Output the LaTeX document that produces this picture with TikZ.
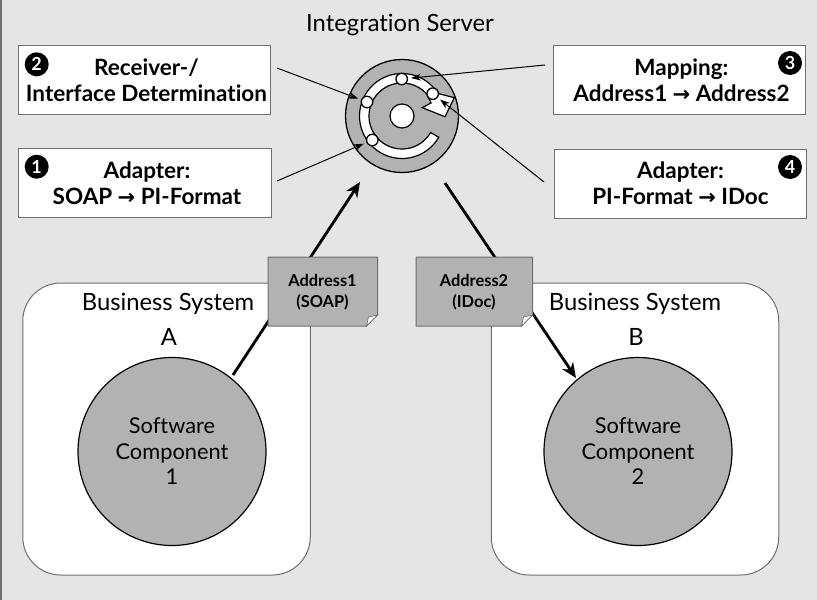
\documentclass[tikz,border=0pt]{standalone}
\usepackage{fontspec}
\setmainfont[Ligatures=NoCommon]{Lato}
\newfontfamily\arrowfont{DejaVu Sans}
\usetikzlibrary{arrows.meta,calc}
\definecolor{pagegray}{HTML}{E5E5E5}
\definecolor{fillgray}{HTML}{B2B2B2}
\definecolor{edgegray}{HTML}{6F6F6F}
\newcommand{\toarrow}{{\arrowfont\bfseries\fontsize{21}{21}\selectfont→}}
\newcommand{\nudge}{\hspace*{4pt}}
\tikzset{
  infobox/.style={draw=edgegray,line width=1pt,fill=white,minimum width=252.5pt,minimum height=69pt,
    inner sep=0pt,align=center,font=\fontsize{22.5}{26}\selectfont\bfseries},
  systembox/.style={draw=edgegray,line width=1pt,fill=white,rounded corners=38pt,
    minimum width=287.5pt,minimum height=292pt,inner sep=0pt},
  compcircle/.style={circle,draw=black,line width=1.2pt,fill=fillgray,minimum size=188pt,inner sep=0pt,
    align=center,font=\fontsize{21.8}{25.5}\selectfont},
  badge/.style={circle,fill=black,text=white,minimum size=24pt,inner sep=0pt,font=\fontsize{18}{18}\selectfont\bfseries},
  port/.style={circle,draw=black,line width=1.3pt,fill=white,minimum size=11.5pt,inner sep=0pt},
  thinarrow/.style={line width=1pt,shorten >=3pt,-{Stealth[length=10pt,width=7pt]}},
  thickarrow/.style={line width=2.8pt,-{Stealth[length=15pt,width=13pt]}},
  titletext/.style={inner sep=0pt,font=\fontsize{23.8}{23.8}\selectfont},
  notebody/.style={draw=edgegray,line width=1pt,fill=fillgray},
  notetext/.style={inner sep=0pt,align=center,font=\fontsize{16.4}{21}\selectfont\bfseries},
}
\begin{document}
\begin{tikzpicture}[x=1pt,y=-1pt]
\useasboundingbox (0,0) rectangle (817,600);
\fill[pagegray] (0,0) rectangle (817,600);
\draw[edgegray,line width=1.5pt] (1,-2) -- (1,602);

\node[titletext] (title) at (400,25) {Integration Server};

% business systems
\node[systembox] (sysA) at (166.5,429) {};
\node[systembox] (sysB) at (635,429) {};
\node[titletext] (sysAname) at (168,304) {Business System};
\node[titletext] (sysBname) at (635,304) {Business System};
\node[titletext] (sysAletter) at (169,337) {A};
\node[titletext] (sysBletter) at (636,337) {B};
\node[compcircle] (compA) at (172,451.5) {Software\\Component\\1};
\node[compcircle] (compB) at (638,451.5) {Software\\Component\\2};

% pipeline wheel
\coordinate (hub) at (402,116);
\fill[fillgray,draw=black,line width=1.3pt] (hub) circle[radius=56.5];
\draw[fill=white,line width=1.2pt]
  ($(hub)+(30:42.5)$) arc[start angle=30,end angle=328,radius=42.5]
  -- (454.3,97.7) -- (445,116.7) -- (422.3,107.7) -- (431,103)
  -- ($(hub)+(320:33)$) arc[start angle=320,end angle=30,radius=33] -- cycle;
\draw[fill=white,line width=1.2pt] (hub) circle[radius=12];
\node[port] (p2) at (367,102) {};
\node[port] (p1) at (372.3,140) {};
\node[port] (p3) at (401.7,79) {};
\node[port] (p4) at (432.7,93.7) {};

% processing steps
\node[infobox] (recv) at (144.5,80) {\nudge Receiver-/\\\nudge Interface Determination};
\node[infobox] (adaptA) at (145,183) {\nudge Adapter:\\\nudge SOAP \toarrow{} PI-Format};
\node[infobox] (map) at (679.5,80) {\nudge Mapping:\\\nudge Address1 \toarrow{} Address2};
\node[infobox] (adaptB) at (680.5,183.5) {Adapter:\\PI-Format \toarrow{} IDoc};
\node[badge] (n2) at (36.7,64.3) {2};
\node[badge] (n1) at (36.7,166.7) {1};
\node[badge] (n3) at (790,63) {3};
\node[badge] (n4) at (790,167) {4};

\coordinate (recvOut) at (277,68);
\coordinate (adaptAOut) at (277,181);
\coordinate (mapOut) at (545,65);
\coordinate (adaptBOut) at (544,182);
\draw[thinarrow] (recvOut) -- (p2);
\draw[thinarrow] (adaptAOut) -- (p1);
\draw[thinarrow] (mapOut) -- (p3);
\draw[thinarrow] (adaptBOut) -- (p4);

% message flow
\coordinate (flowAstart) at (233,375);
\coordinate (flowAend) at (360,182);
\coordinate (flowBstart) at (445,183);
\coordinate (flowBend) at (576,378);
\draw[thickarrow] (flowAstart) -- (flowAend);
\draw[thickarrow] (flowBstart) -- (flowBend);

% message documents
\draw[notebody] (268,257) -- (377.5,257) -- (377.5,315) -- (366.5,326) -- (268,326) -- cycle;
\draw[edgegray,line width=.7pt,fill=white] (377.5,315) -- (366.5,326) -- (368.5,317) -- cycle;
\node[notetext] (noteA) at (322.5,292.5) {Address1\\(SOAP)};
\draw[notebody] (416,257) -- (532.5,257) -- (532.5,315) -- (521.5,326) -- (416,326) -- cycle;
\draw[edgegray,line width=.7pt,fill=white] (532.5,315) -- (521.5,326) -- (523.5,317) -- cycle;
\node[notetext] (noteB) at (474,292.5) {Address2\\(IDoc)};
\end{tikzpicture}
\end{document}
